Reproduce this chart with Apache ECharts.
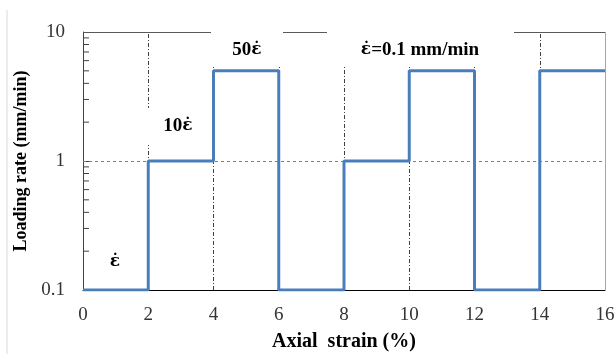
<!DOCTYPE html>
<html>
<head>
<meta charset="utf-8">
<script src="https://cdn.jsdelivr.net/npm/echarts@6/dist/echarts.min.js"></script>
<style>
  html, body { margin: 0; padding: 0; background: #fff; }
  #chart { width: 616px; height: 354px; }
</style>
</head>
<body>
<div id="chart"></div>
<script>
// strain where each loading stage starts, and its rate (mm/min)
var strainPts = [0, 2, 4, 6, 8, 10, 12, 14, 16];
var ratePts = [0.1, 1, 5, 0.1, 1, 5, 0.1, 5, 5];
// dash-dot verticals
var gridX = [2, 4, 6, 8, 10, 12, 14];
// dashed horizontal
var gridY = [1];
// log minor ticks
var minorTicks = [0.2, 0.3, 0.4, 0.5, 0.6, 0.7, 0.8, 0.9, 2, 3, 4, 5, 6, 7, 8, 9];

var serif = 'Liberation Serif';
var epsRich = {
  e: { fontFamily: 'DejaVu Serif', fontWeight: 'bold', fontSize: 17, fill: '#000' }
};

var myChart = echarts.init(document.getElementById('chart'));

var lineData = [];
for (var i = 0; i < strainPts.length; i++) {
  lineData.push([strainPts[i], ratePts[i]]);
}

function label(txt, x, y) {
  return {
    type: 'text', z: 4, x: x, y: y,
    style: {
      text: txt, font: 'bold 19px "Liberation Serif"', fill: '#000',
      align: 'center', verticalAlign: 'middle', rich: epsRich
    }
  };
}

var option = {
  animation: false,
  grid: { left: 83, right: 11, top: 32, bottom: 64, show: false, outerBoundsMode: 'none', containLabel: false },
  xAxis: {
    type: 'value', min: 0, max: 16, interval: 2,
    name: 'Axial  strain (%)', nameLocation: 'middle', nameGap: 42,
    nameTextStyle: { fontFamily: serif, fontWeight: 'bold', fontSize: 20, color: '#000' },
    axisLine: { lineStyle: { color: '#000', width: 1 } },
    axisTick: { show: false },
    axisLabel: { fontFamily: serif, fontSize: 19, color: '#333', margin: 16 },
    splitLine: { show: false }
  },
  yAxis: {
    type: 'log', logBase: 10, min: 0.1, max: 10,
    name: 'Loading rate (mm/min)', nameLocation: 'middle', nameGap: 49,
    nameTextStyle: { fontFamily: serif, fontWeight: 'bold', fontSize: 18, color: '#000' },
    axisLine: { show: true, lineStyle: { color: '#404040', width: 1 } },
    axisTick: { show: true, inside: true, length: 6, lineStyle: { color: '#404040' } },
    axisLabel: { fontFamily: serif, fontSize: 19, color: '#333', margin: 18 },
    splitLine: { show: false }
  },
  graphic: [
    { type: 'line', z: 0, shape: { x1: 7, y1: 10, x2: 7, y2: 354 }, style: { stroke: '#d9d9d9', lineWidth: 1 } },
    { type: 'rect', z: 3, shape: { x: 211, y: 24, width: 72, height: 41 }, style: { fill: '#fff' } },
    { type: 'rect', z: 3, shape: { x: 327, y: 24, width: 187, height: 41 }, style: { fill: '#fff' } },
    { type: 'rect', z: 3, shape: { x: 145, y: 108, width: 65, height: 37 }, style: { fill: '#fff' } },
    label('50{e|\u03b5\u0307}', 247, 50),
    label('{e|\u03b5\u0307}=0.1 mm/min', 420, 50),
    label('10{e|\u03b5\u0307}', 178, 126),
    label('{e|\u03b5\u0307}', 115, 262)
  ],
  series: [
    {
      // carrier for the grid lines and frame
      type: 'line', z: 1, data: [[0, 0.1]], showSymbol: false, silent: true,
      lineStyle: { opacity: 0 },
      markLine: {
        z: 1, silent: true, symbol: 'none', label: { show: false },
        data: gridX.map(function(v) {
          return { xAxis: v, lineStyle: { color: '#404040', type: [4, 2, 1, 2], width: 1 } };
        }).concat(gridY.map(function(v) {
          return { yAxis: v, lineStyle: { color: '#7f7f7f', type: [3, 3], width: 1 } };
        })).concat([
          { yAxis: 10, lineStyle: { color: '#595959', type: 'solid', width: 1 } },
          { xAxis: 16, lineStyle: { color: '#a6a6a6', type: 'solid', width: 1 } }
        ])
      }
    },
    {
      type: 'custom', z: 2, silent: true,
      data: minorTicks.map(function(v) { return [0, v]; }),
      encode: { x: 0, y: 1 },
      renderItem: function(params, api) {
        var pt = api.coord([api.value(0), api.value(1)]);
        return {
          type: 'line',
          shape: { x1: pt[0], y1: pt[1], x2: pt[0] + 6, y2: pt[1] },
          style: { stroke: '#404040', lineWidth: 1 }
        };
      }
    },
    {
      type: 'line', z: 5, step: 'end', data: lineData,
      showSymbol: false, silent: true,
      lineStyle: { color: '#4a7ebb', width: 3 }
    }
  ]
};

myChart.setOption(option);
</script>
</body>
</html>
